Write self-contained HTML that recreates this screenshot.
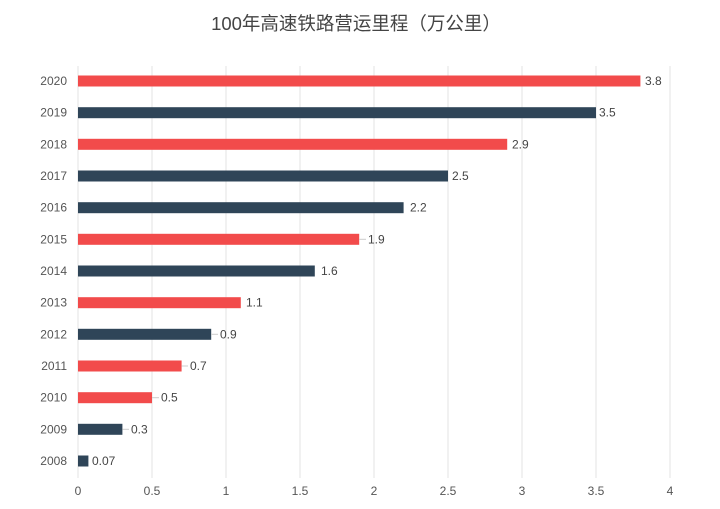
<!DOCTYPE html>
<html><head><meta charset="utf-8"><style>
body{margin:0;background:#fff;}
svg{display:block;font-family:"Liberation Sans","Noto Sans CJK SC",sans-serif;}
</style></head><body>
<svg width="720" height="509" viewBox="0 0 720 509">
<text x="356" y="30" text-anchor="middle" font-size="18.5" fill="#444">100年高速铁路营运里程（万公里）</text>
<g stroke="#e3e3e3" stroke-width="1">
<line x1="78" y1="66" x2="78" y2="478"/>
<line x1="152" y1="66" x2="152" y2="478"/>
<line x1="226" y1="66" x2="226" y2="478"/>
<line x1="300" y1="66" x2="300" y2="478"/>
<line x1="374" y1="66" x2="374" y2="478"/>
<line x1="448" y1="66" x2="448" y2="478"/>
<line x1="522" y1="66" x2="522" y2="478"/>
<line x1="596" y1="66" x2="596" y2="478"/>
<line x1="670" y1="66" x2="670" y2="478"/>
</g>
<g font-size="12" fill="#555" text-anchor="middle">
<text x="78" y="495">0</text><text x="152" y="495">0.5</text><text x="226" y="495">1</text><text x="300" y="495">1.5</text><text x="374" y="495">2</text><text x="448" y="495">2.5</text><text x="522" y="495">3</text><text x="596" y="495">3.5</text><text x="670" y="495">4</text>
</g>
<g fill="#f24b4b">
<rect x="78" y="75.5" width="562.4" height="11"/>
<rect x="78" y="138.8" width="429.2" height="11"/>
<rect x="78" y="233.8" width="281.2" height="11"/>
<rect x="78" y="297.2" width="162.8" height="11"/>
<rect x="78" y="360.5" width="103.6" height="11"/>
<rect x="78" y="392.2" width="74" height="11"/>
</g>
<g fill="#2f4558">
<rect x="78" y="107.2" width="518" height="11"/>
<rect x="78" y="170.5" width="370" height="11"/>
<rect x="78" y="202.2" width="325.6" height="11"/>
<rect x="78" y="265.5" width="236.8" height="11"/>
<rect x="78" y="328.8" width="133.2" height="11"/>
<rect x="78" y="423.8" width="44.4" height="11"/>
<rect x="78" y="455.5" width="10.4" height="11"/>
</g>
<g stroke="#ccc">
<line x1="359" y1="239.3" x2="366" y2="239.3"/>
<line x1="211" y1="334.3" x2="218" y2="334.3"/>
<line x1="181.6" y1="366" x2="188" y2="366"/>
<line x1="152" y1="397.7" x2="159" y2="397.7"/>
<line x1="122.4" y1="429.3" x2="129" y2="429.3"/>
</g>
<g font-size="12" fill="#555" text-anchor="end">
<text x="67" y="85">2020</text><text x="67" y="116.7">2019</text><text x="67" y="148.3">2018</text><text x="67" y="180">2017</text><text x="67" y="211.7">2016</text><text x="67" y="243.3">2015</text><text x="67" y="275">2014</text><text x="67" y="306.7">2013</text><text x="67" y="338.3">2012</text><text x="67" y="370">2011</text><text x="67" y="401.7">2010</text><text x="67" y="433.3">2009</text><text x="67" y="465">2008</text>
</g>
<g font-size="12" fill="#444">
<text x="645" y="85">3.8</text>
<text x="599" y="116.7">3.5</text>
<text x="512" y="148.3">2.9</text>
<text x="452" y="180">2.5</text>
<text x="410" y="211.7">2.2</text>
<text x="368" y="243.3">1.9</text>
<text x="321" y="275">1.6</text>
<text x="246" y="306.7">1.1</text>
<text x="220" y="338.3">0.9</text>
<text x="190" y="370">0.7</text>
<text x="161" y="401.7">0.5</text>
<text x="131" y="433.3">0.3</text>
<text x="92" y="465">0.07</text>
</g>
</svg>
</body></html>
